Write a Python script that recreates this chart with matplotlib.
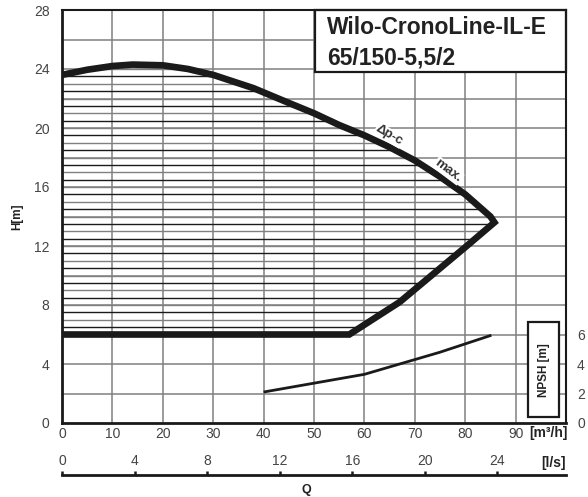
import numpy as np
import matplotlib
matplotlib.use("Agg")
import matplotlib.pyplot as plt
from matplotlib.patches import Polygon, Rectangle

plt.rcParams['font.family'] = ['Liberation Sans Narrow', 'Liberation Sans', 'DejaVu Sans']

# pump curve data, Q in m3/h, H in m
q_max = [0, 5, 10, 14, 20, 25, 30, 38, 45, 50, 55, 60, 65, 70, 75, 80, 85, 85.8]
h_max = [23.6, 23.95, 24.2, 24.3, 24.25, 24.0, 23.6, 22.7, 21.7, 21.0, 20.2, 19.5, 18.7, 17.8, 16.7, 15.5, 14.0, 13.6]
q_min = [85.8, 80.3, 73.3, 67, 62, 57, 0]
h_min = [13.6, 12, 10, 8.2, 7.1, 6.0, 6.0]
q_npsh = [40, 50, 60, 67, 75, 85.2]
h_npsh = [2.1, 2.7, 3.3, 4.0, 4.8, 5.95]

x_ticks = [0, 10, 20, 30, 40, 50, 60, 70, 80, 90]
y_ticks = [0, 4, 8, 12, 16, 20, 24, 28]
npsh_ticks = [0, 2, 4, 6]
ls_ticks = [0, 4, 8, 12, 16, 20, 24]

title_lines = ["Wilo-CronoLine-IL-E", "65/150-5,5/2"]

W, H = 588, 497
fig = plt.figure(figsize=(W / 100, H / 100), dpi=100)
L, R, T, B = 62, 566, 10, 423
ax = fig.add_axes([L / W, 1 - B / H, (R - L) / W, (B - T) / H])
ax.set_xlim(0, 100)
ax.set_ylim(0, 28)

grid_c = '#808080'
ink = '#1a1a1a'

# grid
for x in x_ticks[1:]:
    ax.axvline(x, color=grid_c, lw=1.1, zorder=1)
for y in range(2, 28, 2):
    ax.axhline(y, color=grid_c, lw=1.1, zorder=1)

# hatch inside the operating range
region = Polygon(list(zip(q_max, h_max)) + list(zip(q_min[1:], h_min[1:])),
                 closed=True, transform=ax.transData, fill=False, lw=0)
ax.add_patch(region)
for h in np.arange(6.5, 24.5, 0.5):
    c = grid_c if h == int(h) else ink
    ln, = ax.plot([0, 100], [h, h], color=c, lw=1.0, zorder=2)
    ln.set_clip_path(region)

# curves
ax.plot(q_max + q_min[1:], h_max + h_min[1:], color=ink, lw=4.8,
        solid_joinstyle='miter', solid_capstyle='butt', zorder=4)
ax.plot(q_npsh, h_npsh, color=ink, lw=2.0, solid_capstyle='butt', zorder=4)

lbl = dict(fontsize=9.5, fontweight='bold', color='#333333', ha='center', va='center',
           zorder=5, bbox=dict(facecolor='white', edgecolor='none', pad=0.5))
ax.text(64.9, 19.5, "\u0394p-c", rotation=-30, **lbl)
ax.text(76.6, 17.1, "max.", rotation=-37, **lbl)

# title box
ax.add_patch(Rectangle((50.2, 23.8), 49.8, 4.2, facecolor='white',
                       edgecolor=ink, lw=1.6, zorder=6, clip_on=False))
ax.text(52.6, 26.8, title_lines[0], fontsize=16.5, fontweight='bold',
        color='#222222', va='center', ha='left', zorder=7)
ax.text(52.6, 24.75, title_lines[1], fontsize=16.5, fontweight='bold',
        color='#222222', va='center', ha='left', zorder=7)

# NPSH box
ax.add_patch(Rectangle((92.5, 0.4), 6.2, 6.45, facecolor='white',
                       edgecolor=ink, lw=1.6, zorder=6))
ax.text(95.6, 3.6, "NPSH [m]", rotation=90, fontsize=8.5, fontweight='bold',
        color='#222222', ha='center', va='center', zorder=7)

# axes styling
for s in ['left', 'bottom']:
    ax.spines[s].set_linewidth(2.0)
for s in ['top', 'right']:
    ax.spines[s].set_linewidth(1.5)
for s in ax.spines.values():
    s.set_color(ink)
    s.set_zorder(8)
ax.set_xticks(x_ticks)
ax.set_yticks(y_ticks)
ax.tick_params(axis='y', length=0, pad=9, labelsize=10, labelcolor='#444444')
ax.tick_params(axis='x', length=0, pad=3, labelsize=10, labelcolor='#444444')

ax_r = ax.twinx()
ax_r.set_ylim(0, 28)
ax_r.set_yticks(npsh_ticks)
ax_r.tick_params(axis='y', length=0, pad=8, labelsize=10, labelcolor='#444444')
for s in ax_r.spines.values():
    s.set_visible(False)

fig.text(548 / W, 1 - 433 / H, "[m\u00b3/h]", fontsize=10, fontweight='bold',
         color='#222222', ha='center', va='center')
fig.text(17 / W, 1 - 217 / H, "H[m]", rotation=90, fontsize=8.5, fontweight='bold',
         color='#222222', ha='center', va='center')

# second flow axis in l/s
ax2 = fig.add_axes([L / W, 1 - 475 / H, (R - L) / W, 0.0001])
ax2.set_xlim(0, 100 / 3.6)
ax2.set_yticks([])
for s in ['left', 'right', 'top']:
    ax2.spines[s].set_visible(False)
ax2.spines['bottom'].set_linewidth(2.0)
ax2.spines['bottom'].set_color(ink)
ax2.xaxis.set_ticks_position('top')
ax2.set_xticks(ls_ticks)
ax2.tick_params(axis='x', top=True, labeltop=True, bottom=False, labelbottom=False,
                direction='out', length=3, width=1.8, color=ink, pad=2,
                labelsize=10, labelcolor='#444444')
fig.text(553 / W, 1 - 463 / H, "[l/s]", fontsize=10, fontweight='bold',
         color='#222222', ha='center', va='center')
fig.text(306 / W, 1 - 490 / H, "Q", fontsize=9, fontweight='bold',
         color='#222222', ha='center', va='center')

fig.savefig("out.png", dpi=100)
